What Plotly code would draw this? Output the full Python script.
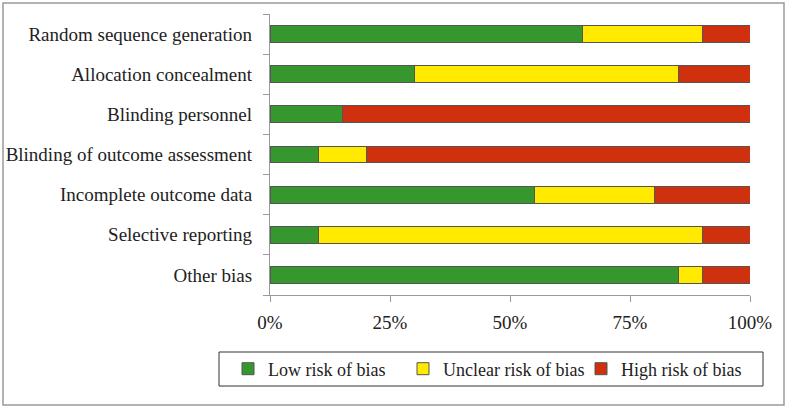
import plotly.graph_objects as go

categories = [
    "Random sequence generation",
    "Allocation concealment",
    "Blinding personnel",
    "Blinding of outcome assessment",
    "Incomplete outcome data",
    "Selective reporting",
    "Other bias",
]
low_risk = [65, 30, 15, 10, 55, 10, 85]
unclear_risk = [25, 55, 0, 10, 25, 80, 5]
high_risk = [10, 15, 85, 80, 20, 10, 10]
x_ticks = [0, 25, 50, 75, 100]
x_tick_labels = ["0%", "25%", "50%", "75%", "100%"]
series_names = ["Low risk of bias", "Unclear risk of bias", "High risk of bias"]
series_colors = ["#37972F", "#FFEA00", "#CF310F"]

W, H = 787, 409
L, R, T, B = 270, 37, 14, 114
pw, ph = W - L - R, H - T - B

def px_x(p):
    return (p - L) / pw

def px_y(p):
    return (H - B - p) / ph

font_family = "Liberation Serif, DejaVu Serif, serif"
legend_ids = ["legend", "legend2", "legend3"]
legend_symbol_px = [250, 425, 603]

fig = go.Figure()
for name, vals, col, lid in zip(series_names, [low_risk, unclear_risk, high_risk], series_colors, legend_ids):
    fig.add_trace(go.Bar(
        y=categories, x=vals, name=name, orientation="h",
        marker=dict(color=col, line=dict(color="#555555", width=1)),
        width=0.42, legend=lid, showlegend=True,
    ))

legend_layout = {}
for lid, sx in zip(legend_ids, legend_symbol_px):
    legend_layout[lid] = dict(
        orientation="h", xref="container", yref="container",
        xanchor="left", yanchor="middle",
        x=(sx - 22) / W, y=(H - 369) / H,
        font=dict(size=18, family=font_family),
        bgcolor="rgba(0,0,0,0)", borderwidth=0,
    )

fig.update_layout(
    width=W, height=H,
    barmode="stack",
    showlegend=True,
    plot_bgcolor="white", paper_bgcolor="white",
    margin=dict(l=L, r=R, t=T, b=B, autoexpand=False),
    font=dict(family=font_family, size=19, color="#222222"),
    xaxis=dict(
        range=[0, 100], tickvals=x_ticks, ticktext=x_tick_labels,
        showgrid=False, zeroline=False,
        showline=True, linecolor="#9a9a9a", linewidth=1.2,
        ticks="outside", ticklen=6, tickcolor="#9a9a9a",
        ticklabelstandoff=4,
    ),
    yaxis=dict(
        categoryorder="array", categoryarray=categories[::-1],
        showgrid=False, zeroline=False,
        showline=True, linecolor="#9a9a9a", linewidth=1.2,
        ticks="outside", ticklen=6, tickcolor="#9a9a9a",
        tickson="boundaries", ticklabelstandoff=13,
    ),
    shapes=[
        dict(type="rect", xref="paper", yref="paper",
             x0=px_x(219), x1=px_x(763), y0=px_y(386), y1=px_y(352),
             line=dict(color="#333333", width=1), fillcolor="rgba(0,0,0,0)", layer="below"),
        dict(type="rect", xref="paper", yref="paper",
             x0=px_x(3), x1=px_x(784), y0=px_y(405), y1=px_y(3),
             line=dict(color="#9a9a9a", width=1.5), fillcolor="rgba(0,0,0,0)", layer="below"),
    ],
    **legend_layout,
)

fig.write_html("out.html", config={"displayModeBar": False},
               post_script="document.body.style.margin='0';")
